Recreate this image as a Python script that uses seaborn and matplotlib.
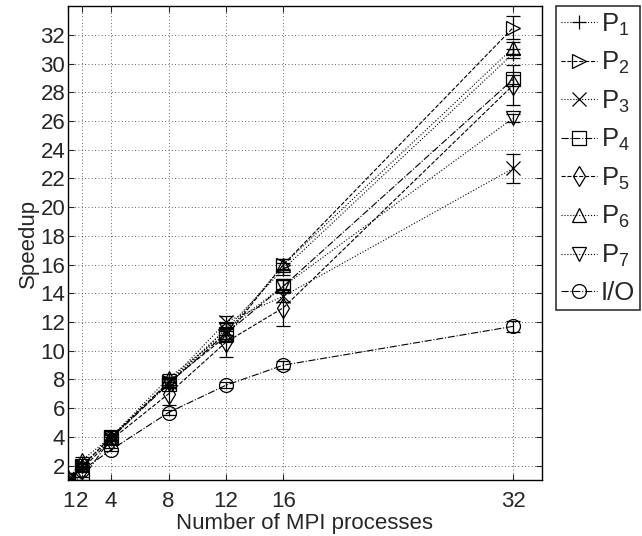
import matplotlib
matplotlib.use("Agg")
import matplotlib.pyplot as plt
import pandas as pd
import seaborn as sns

# data
procs = [1, 2, 4, 8, 12, 16, 32]
labels = ["P$_1$", "P$_2$", "P$_3$", "P$_4$", "P$_5$", "P$_6$", "P$_7$", "I/O"]

p1 = [1.0, 2.0, 4.0, 7.8, 11.5, 15.7, 30.7]
p2 = [1.0, 2.0, 4.0, 7.8, 11.0, 16.0, 32.5]
p3 = [1.0, 2.0, 3.9, 7.8, 12.0, 13.8, 22.7]
p4 = [1.0, 1.1, 3.9, 7.7, 11.2, 14.5, 28.9]
p5 = [1.0, 1.8, 3.8, 7.0, 10.6, 13.0, 28.5]
p6 = [1.0, 2.4, 4.0, 8.1, 11.2, 16.0, 31.1]
p7 = [1.0, 2.0, 4.0, 7.7, 11.5, 14.5, 26.2]
io = [1.0, 1.7, 3.1, 5.7, 7.6, 9.0, 11.7]

e1 = [0.1, 0.2, 0.2, 0.3, 0.4, 0.4, 0.3]
e2 = [0.1, 0.2, 0.2, 0.3, 0.4, 0.4, 0.8]
e3 = [0.1, 0.2, 0.2, 0.3, 0.4, 0.4, 1.0]
e4 = [0.1, 0.1, 0.2, 0.3, 0.4, 0.4, 0.3]
e5 = [0.1, 0.2, 0.3, 0.8, 1.0, 1.3, 1.4]
e6 = [0.1, 0.2, 0.2, 0.3, 0.4, 0.4, 0.4]
e7 = [0.1, 0.2, 0.2, 0.3, 0.4, 0.4, 0.3]
eio = [0.1, 0.1, 0.1, 0.2, 0.2, 0.3, 0.4]

series = [p1, p2, p3, p4, p5, p6, p7, io]
errs = [e1, e2, e3, e4, e5, e6, e7, eio]
markers = ["+", ">", "x", "s", "d", "^", "v", "o"]
styles = [":", "--", ":", "-.", "--", ":", ":", "-."]

sns.set_style("white")
plt.rcParams["font.family"] = ["Liberation Sans", "DejaVu Sans"]
plt.rcParams["mathtext.fontset"] = "custom"
plt.rcParams["mathtext.rm"] = "Liberation Sans"
plt.rcParams["mathtext.it"] = "Liberation Sans"

fig = plt.figure(figsize=(6.42, 5.36), dpi=100)
ax = fig.add_axes([0.106, 0.1045, 0.738, 0.884])

for lab, vals, err, mk, ls in zip(labels, series, errs, markers, styles):
    df = pd.DataFrame({"x": procs, "y": vals})
    sns.lineplot(data=df, x="x", y="y", ax=ax, color="black", linestyle=ls,
                 linewidth=0.8, marker=mk, markersize=10, markerfacecolor="none",
                 markeredgecolor="black", markeredgewidth=0.9, label=lab)
    ax.errorbar(procs, vals, yerr=err, fmt="none", ecolor="black",
                elinewidth=0.9, capsize=5, capthick=0.9)

ax.set_xlim(1, 34)
ax.set_ylim(1, 34)
ax.set_xticks(procs)
ax.set_yticks(range(2, 33, 2))
ax.tick_params(labelsize=16, direction="in", length=4, pad=2, left=True,
               bottom=True, right=True, top=True)
ax.tick_params(axis="x", pad=8)
ax.grid(True, linestyle=(0, (1, 3)), color="black", linewidth=0.6, alpha=0.8)
for sp in ax.spines.values():
    sp.set_color("black")
    sp.set_linewidth(1.0)
ax.set_xlabel("Number of MPI processes", fontsize=16, labelpad=1)
ax.set_ylabel("Speedup", fontsize=16, labelpad=1)

leg = ax.legend(loc="upper left", bbox_to_anchor=(1.03, 1.0), fontsize=18.5,
                handlelength=1.4, handletextpad=0.15, labelspacing=0.48,
                borderpad=0.2, borderaxespad=0, fancybox=False, frameon=True)
leg.get_frame().set_edgecolor("black")
leg.get_frame().set_linewidth(1.2)

fig.savefig("out.png", dpi=100)
